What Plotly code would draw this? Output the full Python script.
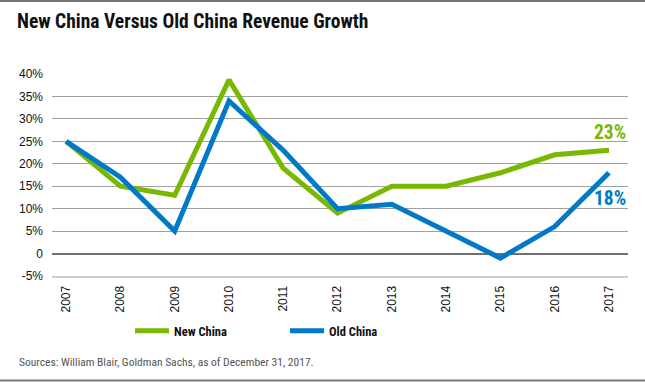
import plotly.graph_objects as go

years = ["2007", "2008", "2009", "2010", "2011", "2012", "2013", "2014", "2015", "2016", "2017"]
new_china = [25, 15, 13, 38.7, 19, 9, 15, 15, 18, 22, 23]
old_china = [25, 17, 5, 34, 23, 10, 11, 5, -1, 6, 18]
y_ticks = [-5, 0, 5, 10, 15, 20, 25, 30, 35, 40]
y_labels = ["-5%", "0", "5%", "10%", "15%", "20%", "25%", "30%", "35%", "40%"]
end_labels = ["23%", "18%"]

GREEN = "#78B800"
BLUE = "#0079C8"
COND = "Roboto Condensed, DejaVu Sans Condensed, sans-serif"
TICKF = "Liberation Sans, Arial, sans-serif"

W, H = 645, 382
L, R, T, B = 52, 17, 74, 106
PW, PH = W - L - R, H - T - B


def px_x(x):
    return (x - L) / PW


def px_y(y):
    return (H - B - y) / PH


fig = go.Figure()
fig.add_trace(go.Scatter(x=years, y=new_china, mode="lines", name="New China",
                         line=dict(color=GREEN, width=5)))
fig.add_trace(go.Scatter(x=years, y=old_china, mode="lines", name="Old China",
                         line=dict(color=BLUE, width=5)))

last = len(years) - 1
fig.add_annotation(x=last, y=new_china[-1], text="<b>" + end_labels[0] + "</b>", showarrow=False,
                   xanchor="center", yanchor="middle", yshift=18, xshift=1,
                   font=dict(family=COND, size=19.5, color=GREEN))
fig.add_annotation(x=last, y=old_china[-1], text="<b>" + end_labels[1] + "</b>", showarrow=False,
                   xanchor="center", yanchor="middle", yshift=-26, xshift=1,
                   font=dict(family=COND, size=19.5, color=BLUE))

fig.update_layout(
    width=W, height=H,
    margin=dict(l=L, r=R, t=T, b=B, autoexpand=False),
    paper_bgcolor="white", plot_bgcolor="white",
    showlegend=True,
    legend=dict(orientation="h", xref="container", yref="container",
                x=130 / W, xanchor="left", y=1 - 331 / H, yanchor="middle",
                font=dict(family=COND, size=12.5, color="#111", weight="bold"),
                itemwidth=34, entrywidth=106, traceorder="normal",
                bgcolor="rgba(0,0,0,0)"),
    title=dict(text="<b>New China Versus Old China Revenue Growth</b>",
               xref="container", yref="container", x=17 / W, xanchor="left",
               y=1 - 21 / H, yanchor="middle",
               font=dict(family=COND, size=19.5, color="#111")),
    xaxis=dict(type="category", range=[-0.26, 10.35], showgrid=False, tickangle=-90,
               tickfont=dict(family=TICKF, size=12, color="#111"),
               ticks="", showline=True, linecolor="#cfcfcf", linewidth=2, zeroline=False,
               ticklabelstandoff=3),
    yaxis=dict(range=[-5, 40], tickvals=y_ticks, ticktext=y_labels, showgrid=True,
               gridcolor="#a0a0a0", gridwidth=1.3, zeroline=True, zerolinecolor="#707070",
               zerolinewidth=1.5, ticks="", ticklabelstandoff=8,
               tickfont=dict(family=TICKF, size=12, color="#111")),
)

# Top and bottom border lines
fig.add_shape(type="line", xref="paper", yref="paper",
              x0=px_x(0), x1=px_x(W), y0=px_y(1), y1=px_y(1),
              line=dict(color="#777", width=2))
fig.add_shape(type="line", xref="paper", yref="paper",
              x0=px_x(0), x1=px_x(W), y0=px_y(380.5), y1=px_y(380.5),
              line=dict(color="#777", width=2))

fig.add_annotation(xref="paper", yref="paper", x=px_x(17), y=px_y(362),
                   text="Sources: William Blair, Goldman Sachs, as of December 31, 2017.",
                   showarrow=False, xanchor="left", yanchor="middle",
                   font=dict(family=COND, size=11.5, color="#555"))

fig.write_html("out.html", config={"displayModeBar": False},
               post_script="document.body.style.margin='0';")
